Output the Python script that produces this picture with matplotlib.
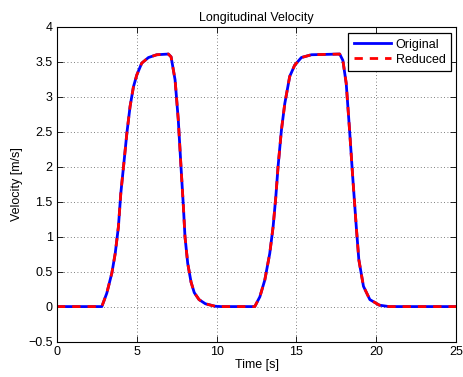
import matplotlib
matplotlib.use("Agg")
import matplotlib.pyplot as plt

plt.rcParams['font.family'] = ['Liberation Sans', 'DejaVu Sans']

time_s = [0.0, 2.81, 3.12, 3.44, 3.65, 3.85, 4.0, 4.17, 4.38, 4.58, 4.79, 5.0, 5.31, 5.73, 6.25, 6.98,
          7.15, 7.4, 7.6, 7.77, 7.92, 8.02, 8.19, 8.4, 8.6, 8.9, 9.3, 9.9, 10.3,
          12.39, 12.71, 13.02, 13.33, 13.54, 13.71, 13.85, 14.06, 14.27, 14.58, 14.89, 15.31, 15.94, 17.71,
          17.91, 18.12, 18.33, 18.54, 18.75, 18.91, 19.2, 19.6, 20.2, 20.8, 25.0]
original = [0.0, 0.0, 0.19, 0.48, 0.76, 1.14, 1.62, 2.0, 2.48, 2.86, 3.14, 3.31, 3.48, 3.56, 3.6, 3.61,
            3.57, 3.24, 2.67, 2.0, 1.43, 1.0, 0.62, 0.35, 0.2, 0.1, 0.04, 0.005, 0.0,
            0.0, 0.14, 0.38, 0.76, 1.14, 1.57, 2.0, 2.52, 2.9, 3.29, 3.45, 3.56, 3.6, 3.61,
            3.52, 3.19, 2.52, 1.81, 1.14, 0.67, 0.29, 0.1, 0.02, 0.0, 0.0]
reduced = [0.0, 0.0, 0.19, 0.48, 0.76, 1.14, 1.62, 2.0, 2.48, 2.86, 3.14, 3.31, 3.48, 3.56, 3.6, 3.61,
           3.57, 3.24, 2.67, 2.0, 1.43, 1.0, 0.62, 0.35, 0.2, 0.1, 0.04, 0.005, 0.0,
           0.0, 0.14, 0.38, 0.76, 1.14, 1.57, 2.0, 2.52, 2.9, 3.29, 3.45, 3.56, 3.6, 3.61,
           3.52, 3.19, 2.52, 1.81, 1.14, 0.67, 0.29, 0.1, 0.02, 0.0, 0.0]

x_ticks = [0, 5, 10, 15, 20, 25]
y_ticks = [-0.5, 0, 0.5, 1, 1.5, 2, 2.5, 3, 3.5, 4]
y_ticklabels = ['\u22120.5', '0', '0.5', '1', '1.5', '2', '2.5', '3', '3.5', '4']

fig = plt.figure(figsize=(4.63, 3.77), dpi=100)
ax = fig.add_axes([0.123, 0.094, 0.862, 0.835])
ax.plot(time_s, original, color='#0000ff', lw=2.0, label='Original', solid_joinstyle='round')
ax.plot(time_s, reduced, color='#ff0000', lw=2.0, ls=(0, (3, 2.5)), label='Reduced',
        dash_joinstyle='round')

ax.set_xlim(0, 25)
ax.set_ylim(-0.5, 4)
ax.set_xticks(x_ticks)
ax.set_xticklabels([str(t) for t in x_ticks])
ax.set_yticks(y_ticks)
ax.set_yticklabels(y_ticklabels)
ax.tick_params(direction='in', top=True, right=True, labelsize=9, length=4, width=0.6, pad=3)
for s in ax.spines.values():
    s.set_linewidth(0.8)
ax.grid(True, ls=(0, (1, 3)), color='#555555', lw=0.6)

ax.set_title('Longitudinal Velocity', fontsize=9, pad=4)
ax.set_xlabel('Time [s]', fontsize=9, labelpad=1)
ax.set_ylabel('Velocity [m/s]', fontsize=9, labelpad=4)

leg = ax.legend(loc='upper right', bbox_to_anchor=(0.988, 0.98), fontsize=9, fancybox=False,
                framealpha=1, edgecolor='black', handlelength=3.0, borderpad=0.45,
                labelspacing=0.25, handletextpad=0.35, borderaxespad=0.0)
leg.get_frame().set_linewidth(0.9)

fig.savefig('out.png', dpi=100)
